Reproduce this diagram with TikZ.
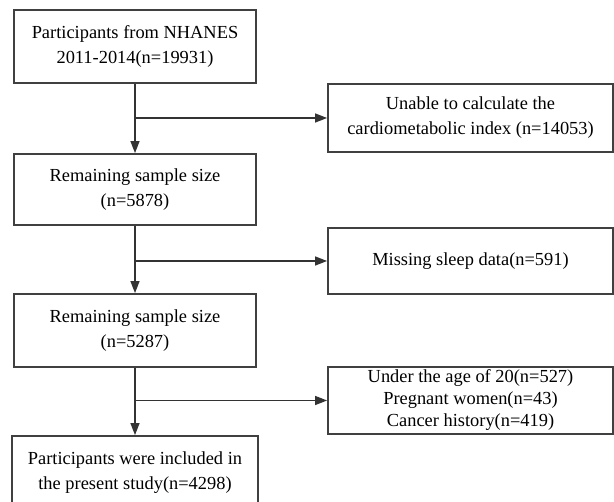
\documentclass[tikz,border=0pt]{standalone}
\usepackage{fontspec}
\setmainfont{Liberation Serif}
\usetikzlibrary{arrows.meta}
\begin{document}
\begin{tikzpicture}[x=1pt, y=-1pt,
		box/.style={draw=black!75, line width=1.8pt, align=center, inner sep=0pt,
			font=\fontsize{18.4}{25}\selectfont},
		mainbox/.style={box, minimum width=242pt, minimum height=72pt},
		sidebox/.style={box, minimum width=285pt},
		flow/.style={draw=black!80, line width=1.3pt, -{Triangle[length=12pt,width=9pt]}},
		link/.style={draw=black!80, line width=1.3pt}
		]
	\useasboundingbox (0,0) rectangle (614,502);
	% main column
	\node [mainbox, minimum height=73pt] (start) at (135,46.5) {Participants from NHANES\\2011-2014(n=19931)};
	\node [mainbox, minimum height=71pt] (rest1) at (135,189.5) {Remaining sample size\\(n=5878)};
	\node [mainbox, minimum height=73pt] (rest2) at (135,330.5) {Remaining sample size\\(n=5287)};
	\node [mainbox, minimum width=246pt, minimum height=73pt] (final) at (135,472.5) {Participants were included in\\the present study(n=4298)};
	% exclusions
	\node [sidebox, minimum height=68pt] (excl1) at (470.5,118) {Unable to calculate the\\cardiometabolic index (n=14053)};
	\node [sidebox, minimum height=66pt] (excl2) at (470.5,261) {Missing sleep data(n=591)};
	\node [sidebox, minimum height=67pt, font=\fontsize{18.4}{22}\selectfont] (excl3) at (470.5,400.5) {Under the age of 20(n=527)\\Pregnant women(n=43)\\Cancer history(n=419)};
	% connectors
	\coordinate (b1) at (start.south |- excl1.west);
	\coordinate (b2) at (rest1.south |- excl2.west);
	\coordinate (b3) at (rest2.south |- excl3.west);
	\draw [flow] (start) -- (rest1);
	\draw [flow] (rest1) -- (rest2);
	\draw [flow] (rest2) -- (final);
	\draw [flow] (b1) -- (excl1.west);
	\draw [flow] (b2) -- (excl2.west);
	\draw [flow] (b3) -- (excl3.west);
\end{tikzpicture}
\end{document}
